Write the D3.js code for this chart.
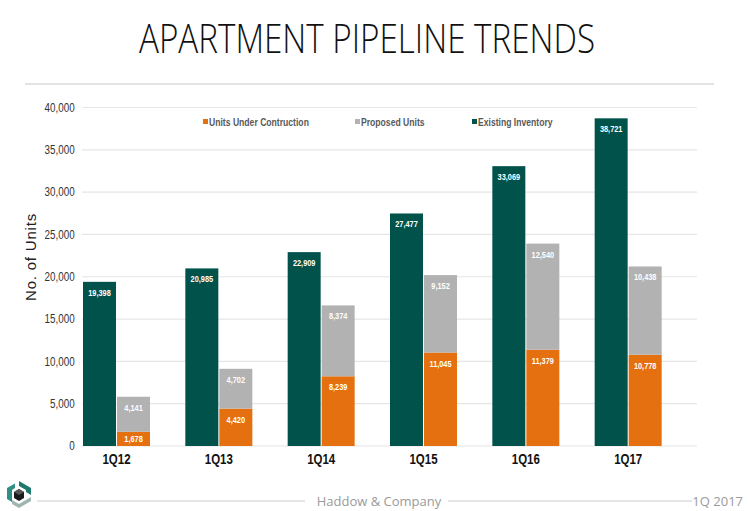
<!DOCTYPE html>
<html><head><meta charset="utf-8">
<script src="https://cdn.jsdelivr.net/npm/d3@7"></script>
<style>body{margin:0;background:#fff}svg{display:block}</style>
</head><body>
<svg id="c" width="750" height="511"></svg>
<script>
const categories = ["1Q12","1Q13","1Q14","1Q15","1Q16","1Q17"];
const existingInventory = [19398,20985,22909,27477,33069,38721];
const underConstruction = [1678,4420,8239,11045,11379,10778];
const proposedUnits = [4141,4702,8374,9152,12540,10438];
const yTicks = [0,5000,10000,15000,20000,25000,30000,35000,40000];
const seriesNames = ["Units Under Contruction","Proposed Units","Existing Inventory"];
const colors = {uc:"#e5700f", pr:"#b2b2b2", ex:"#00524b"};

const svg = d3.select("#c");
const sans = "'Liberation Sans',Arial,sans-serif";
const SQ = 0.82; // horizontal squeeze to emulate a narrow face

function narrowText(parent, x, y, txt, o) {
  return parent.append("text")
    .attr("transform", `translate(${x},${y}) scale(${SQ},1)`)
    .attr("text-anchor", o.anchor || "start")
    .attr("font-family", sans)
    .attr("font-weight", o.weight || "normal")
    .attr("font-size", o.size)
    .attr("fill", o.fill)
    .text(txt);
}

// Title
svg.append("text").attr("x",367).attr("y",53).attr("text-anchor","middle")
  .attr("font-family","'Open Sans','Noto Sans',sans-serif").attr("font-weight",300)
  .attr("font-size",41).attr("fill","#111")
  .attr("textLength",456).attr("lengthAdjust","spacingAndGlyphs")
  .text("APARTMENT PIPELINE TRENDS");
svg.append("line").attr("x1",25).attr("x2",714).attr("y1",84).attr("y2",84)
  .attr("stroke","#e3e3e3").attr("stroke-width",2);

const y = d3.scaleLinear().domain([0,40000]).range([446,107.5]);
const x = d3.scaleBand().domain(categories).range([82,696]).padding(0);
const inner = d3.scaleBand().domain(["ex","st"]).range([1,68]).paddingInner(0.03);

// gridlines
svg.append("g").selectAll("line").data(yTicks).join("line")
  .attr("x1",82).attr("x2",697).attr("y1",d=>y(d)).attr("y2",d=>y(d))
  .attr("stroke","#e6e6e6").attr("stroke-width",1.2);

// y axis
const yAxis = d3.axisLeft(y).tickValues(yTicks).tickFormat(d3.format(",")).tickSize(0).tickPadding(9);
const ga = svg.append("g").attr("transform","translate(82,0)").call(yAxis);
ga.select(".domain").remove();
ga.selectAll("text").attr("font-family",sans).attr("font-size",12).attr("fill","#333")
  .attr("transform",`scale(${SQ},1)`);

svg.append("text").attr("transform","translate(36,257) rotate(-90)").attr("text-anchor","middle")
  .attr("font-family",sans).attr("font-size",15)
  .attr("letter-spacing",0.8).attr("fill","#222").text("No. of Units");

// bars
const data = categories.map((c,i)=>({c,ex:existingInventory[i],uc:underConstruction[i],pr:proposedUnits[i]}));
const g = svg.append("g");
const fmt = d3.format(",");
function labelY(top,bottom){ return Math.min(top+14, (top+bottom)/2+3.5); }

data.forEach(d=>{
  const x0 = x(d.c);
  const bx = x0+inner("ex"), sx = x0+inner("st"), w = inner.bandwidth();
  g.append("rect").attr("x",bx).attr("width",w).attr("y",y(d.ex)).attr("height",y(0)-y(d.ex)).attr("fill",colors.ex);
  g.append("rect").attr("x",sx).attr("width",w).attr("y",y(d.uc)).attr("height",y(0)-y(d.uc)).attr("fill",colors.uc);
  g.append("rect").attr("x",sx).attr("width",w).attr("y",y(d.uc+d.pr)).attr("height",y(d.uc)-y(d.uc+d.pr)).attr("fill",colors.pr);
  const lab = (cx,top,bot,v)=>narrowText(g,cx,labelY(top,bot),fmt(v),{anchor:"middle",weight:"bold",size:9,fill:"#fff"});
  lab(bx+w/2,y(d.ex),y(0),d.ex);
  lab(sx+w/2,y(d.uc),y(0),d.uc);
  lab(sx+w/2,y(d.uc+d.pr),y(d.uc),d.pr);
  narrowText(g,x0+34.5,464,d.c,{anchor:"middle",weight:"bold",size:14,fill:"#111"});
});

// legend
const legX = [203,355,472];
const legC = [colors.uc,colors.pr,colors.ex];
seriesNames.forEach((n,i)=>{
  svg.append("rect").attr("x",legX[i]).attr("y",119).attr("width",5).attr("height",5).attr("fill",legC[i]);
  narrowText(svg,legX[i]+6,125.5,n,{weight:"bold",size:10.5,fill:"#595959"});
});

// footer
svg.append("line").attr("x1",37).attr("x2",305).attr("y1",501).attr("y2",501).attr("stroke","#dcdcdc").attr("stroke-width",1.5);
svg.append("line").attr("x1",448).attr("x2",692).attr("y1",501).attr("y2",501).attr("stroke","#dcdcdc").attr("stroke-width",1.5);
svg.append("text").attr("x",379).attr("y",506).attr("text-anchor","middle").attr("font-family","'Open Sans','Noto Sans',sans-serif")
  .attr("font-size",13).attr("fill","#9a9a9a").text("Haddow & Company");
svg.append("text").attr("x",743).attr("y",506).attr("text-anchor","end").attr("font-family","'Open Sans','Noto Sans',sans-serif")
  .attr("font-size",13).attr("fill","#9a9a9a").text("1Q 2017");

// logo
const lg = svg.append("g").attr("transform","translate(19,495)");
lg.append("path").attr("d","M0,-14 L12,-7 L12,0 L7,-3 L7,-5 L0,-9 Z").attr("fill","#1f7a6e");
lg.append("path").attr("d","M-12,-7 L-4,-11.5 L-4,-7 L-7,-5 L-7,7 L-12,4 Z").attr("fill","#2f8f82");
lg.append("path").attr("d","M-7,9 L0,13 L12,6 L12,2 L0,9 L-7,5 Z").attr("fill","#9fb5b1");
lg.append("path").attr("d","M0,-6 L5,-3 L5,3 L0,6 L-5,3 L-5,-3 Z").attr("fill","#1b1b1b");
lg.append("path").attr("d","M0,-6 L5,-3 L0,0 L-5,-3 Z").attr("fill","#555");
</script>
</body></html>
